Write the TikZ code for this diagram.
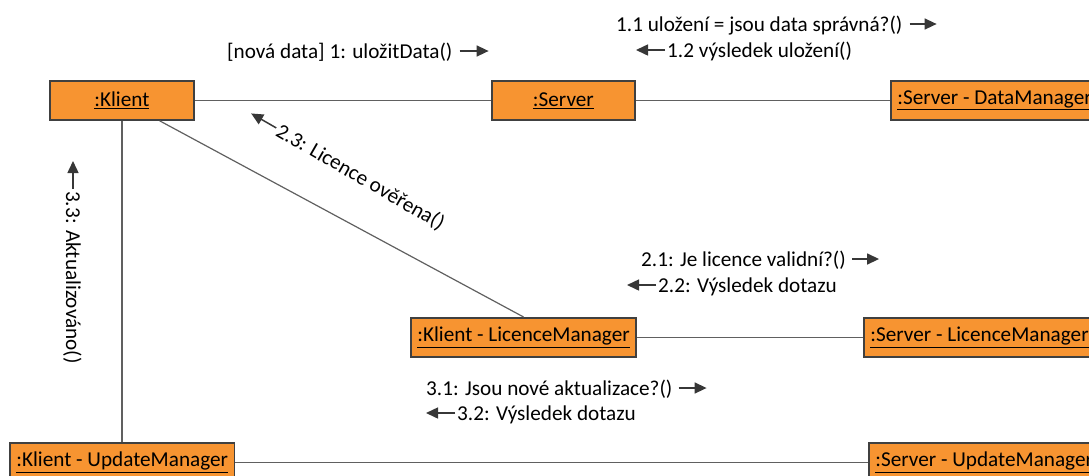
\documentclass[tikz,border=0pt]{standalone}
\usepackage{fontspec}
\setmainfont{Carlito}
\usetikzlibrary{arrows.meta,calc}
\definecolor{objfill}{RGB}{247,148,49}
\definecolor{objline}{RGB}{64,64,64}
\definecolor{linkgray}{RGB}{96,96,96}
\definecolor{msgcol}{RGB}{55,55,55}
\newcommand{\objname}[1]{\underline{#1}}
\begin{document}
\begin{tikzpicture}[x=1pt,y=-1pt,
  obj/.style={draw=objline, line width=1.8pt, fill=objfill, minimum height=39pt,
    inner xsep=6.5pt, inner ysep=0pt, anchor=north west,
    font=\fontsize{21.2}{25}\selectfont},
  link/.style={draw=linkgray, line width=1.4pt},
  msgtext/.style={inner sep=0pt, anchor=base west, font=\fontsize{21.2}{25}\selectfont},
  msg/.style={draw=msgcol, line width=1.5pt, -{Triangle[length=12pt,width=11pt]}},
]
\useasboundingbox (0,0) rectangle (1089,475);
\clip (0,0) rectangle (1089,475);

% objects
\node[obj, minimum width=144pt] (kl)  at (49,80)   {\objname{:Klient}};
\node[obj, minimum width=143pt] (srv) at (491,80)  {\objname{:Server}};
\node[obj] (sdm) at (890,80)  {\objname{:Server - DataManager}};
\node[obj] (klm) at (410,317) {\objname{:Klient - LicenceManager}};
\node[obj] (slm) at (863,317) {\objname{:Server - LicenceManager}};
\node[obj] (kum) at (9,442)   {\objname{:Klient - UpdateManager}};
\node[obj] (sum) at (868,442) {\objname{:Server - UpdateManager}};

% links
\draw[link] (kl) -- (srv);
\draw[link] (srv) -- (sdm);
\draw[link] (kl.south) -- (kl.south |- kum.north);
\draw[link, line width=1.2pt] (kl) -- (klm.north);
\draw[link] (klm) -- (slm);
\draw[link] (kum) -- (sum);

% messages
\node[msgtext] (m1) at (227,58) {[nová data] 1: uložitData()};
\draw[msg] ($(m1.base east)+(7,-7)$) -- ++(29,0);

\node[msgtext] (m11) at (616,31) {1.1 uložení = jsou data správná?()};
\draw[msg] ($(m11.base east)+(7,-7)$) -- ++(27,0);

\node[msgtext] (m12) at (667,57) {1.2 výsledek uložení()};
\draw[msg] ($(m12.base west)+(-2,-7)$) -- ++(-29,0);

\node[msgtext] (m21) at (641,266) {2.1: Je licence validní?()};
\draw[msg] ($(m21.base east)+(6,-7)$) -- ++(27,0);

\node[msgtext] (m22) at (658,292) {2.2: Výsledek dotazu};
\draw[msg] ($(m22.base west)+(-2,-7)$) -- ++(-29,0);

\node[msgtext] (m31) at (426,395) {3.1: Jsou nové aktualizace?()};
\draw[msg] ($(m31.base east)+(6,-7)$) -- ++(28,0);

\node[msgtext] (m32) at (457,420) {3.2: Výsledek dotazu};
\draw[msg] ($(m32.base west)+(-2,-7)$) -- ++(-29,0);

\node[msgtext, rotate=-30] (m23) at (274.5,135) {2.3: Licence ověřena()};
\draw[msg, shift={(m23.base west)}, rotate=-30] (-2,-7) -- (-31,-7);

\node[msgtext, rotate=-90] (m33) at (66,191) {3.3: Aktualizováno()};
\draw[msg, shift={(m33.base west)}, rotate=-90] (-2,-7) -- (-30,-7);
\end{tikzpicture}
\end{document}
